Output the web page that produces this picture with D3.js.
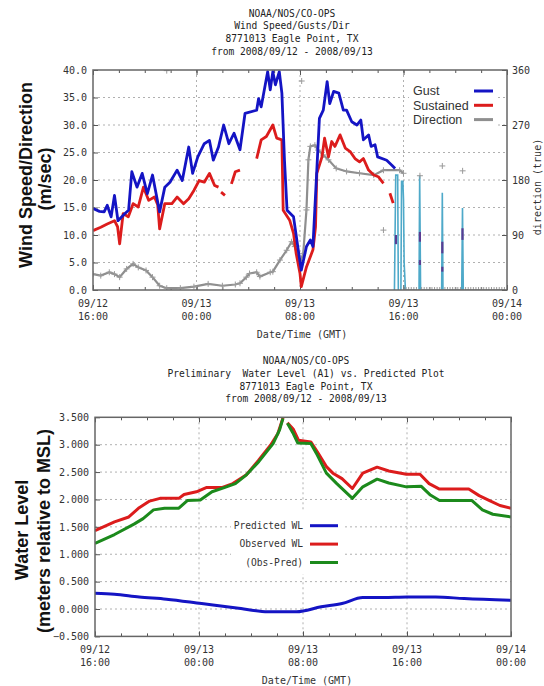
<!DOCTYPE html>
<html><head><meta charset="utf-8">
<script src="https://cdn.jsdelivr.net/npm/d3@7"></script>
<style>body{margin:0;background:#fff} svg{display:block}</style>
</head><body>
<svg id="c" width="544" height="686"></svg>
<script>
// ---------- DATA (hours since 2008-09-12 16:00 GMT) ----------
const startT = Date.UTC(2008, 8, 12, 16);
const windTitle = ["NOAA/NOS/CO-OPS", "Wind Speed/Gusts/Dir", "8771013 Eagle Point, TX", "from 2008/09/12 - 2008/09/13"];
const wlTitle = ["NOAA/NOS/CO-OPS", "Preliminary  Water Level (A1) vs. Predicted Plot", "8771013 Eagle Point, TX", "from 2008/09/12 - 2008/09/13"];
const windLegend = ["Gust", "Sustained", "Direction"];
const wlLegend = ["Predicted WL", "Observed WL", "(Obs-Pred)"];
const speedTicks = [0, 5, 10, 15, 20, 25, 30, 35, 40];
const dirTicks = [0, 90, 180, 270, 360];
const levelTicks = [-0.5, 0, 0.5, 1, 1.5, 2, 2.5, 3, 3.5];

const gust = [[0,14.8],[0.5,14.3],[0.86,14.2],[1.1,15.4],[1.4,13.3],[1.66,17.2],[1.93,12.6],[2.47,13.9],[2.75,14.5],[3.0,21.5],[3.4,18.7],[3.8,21.2],[4.2,17.5],[4.6,20.9],[5.15,14.2],[5.55,18.7],[5.95,19.6],[6.5,21.8],[6.9,19.9],[7.4,26],[7.7,21.2],[8.1,24.2],[8.6,26.6],[9.0,27.2],[9.3,23.6],[9.7,26],[10.1,30],[10.5,26.6],[10.9,28.5],[11.36,25.5],[11.75,32.1],[12.65,32.7],[12.8,34.8],[13.0,33.3],[13.5,39.7],[13.7,36.4],[13.9,39.7],[14.1,37.3],[14.4,39.7],[14.6,35.8],[14.8,23.6],[15.0,14.5],[15.5,13.3],[15.9,6.7],[16.1,3.6],[16.5,7.9],[16.8,9.1],[17.0,7.9],[17.3,21.8],[17.5,31.2],[17.8,32.7],[18.1,37.9],[18.3,33.9],[18.6,36.1],[19.0,35.8],[19.35,32.7],[19.6,32.7],[20.0,30.6],[20.4,30],[20.7,30.9],[20.9,27.3],[21.3,28.2],[21.5,26.1],[21.8,26.4],[22.0,24.2],[22.7,23.6],[23.1,22.7],[23.35,22.1]];
const sustained = [[0,10.8],[0.6,11.4],[1.1,12],[1.66,12.6],[1.9,11.5],[2.06,8.4],[2.33,13.9],[2.73,13.3],[3.1,15.7],[3.5,15.1],[3.9,18.7],[4.3,16.3],[4.75,16.9],[5.0,15.5],[5.15,11.1],[5.55,15.7],[6.1,15.7],[6.5,16.9],[7.0,15.7],[7.4,16.6],[7.8,18.1],[8.2,19.9],[8.6,19.6],[9.0,21.2],[9.4,19],[9.7,18.7],null,[9.9,17.8],[10.2,17.2],null,[10.7,19.3],[11.0,21.5],[11.36,21.8],null,[12.65,23.9],[13.0,27.3],[13.4,27.9],[13.9,30],[14.2,27.6],[14.6,27.3],[14.7,14.5],[15.2,12.7],[15.5,10.3],[15.7,6.7],[16.0,3.0],[16.1,0.6],[16.5,4.2],[17.0,7.3],[17.2,11.5],[17.3,21.2],[17.7,24.2],[17.9,27.6],[18.2,24.2],[18.45,27],[18.7,26.1],[19.1,28.2],[19.5,25.8],[19.9,25.1],[20.25,23.9],[20.6,23.3],[20.9,23.9],[21.3,21.8],[21.7,20.9],[22.05,20.6],[22.45,19.4],null,[22.95,17.6],[23.2,15.8]];
const direction = [[0,26],[0.6,23.5],[1.26,29],[1.66,26],[2.06,21],[2.6,34.5],[3.1,42.7],[3.5,37],[4.1,32],[4.6,21],[5.15,7],[5.7,3],[6.75,3],[7.8,5.5],[8.9,10],[10,7],[11.0,9],[11.36,11],[11.85,21],[12.1,27],[12.65,29],[12.9,22],[13.7,29],[13.9,30],[14.45,49],[14.97,65],[15.35,79],[15.6,71],[16.0,44],[16.25,60],[16.5,131],[16.65,213],[16.8,235],[17.15,237],[17.4,229],[17.8,221],[18.2,213],[18.8,199],[19.6,194],[20.6,191],[21.7,188],[22.45,196],[23.7,196],[24.0,191]];
const dirOutliers = [[5.7,359],[16.13,342],[22.45,98],[25.27,187],[27.0,203],[28.57,195]];
const dirZeroHours = [24.2,24.4,24.6,24.8,25.0,25.4,25.6,25.8,26.0,26.2,26.4,26.6,26.8,27.2,27.4,27.6,27.8,28.0,28.2,28.4,28.8,29.0,29.2,29.4,29.6,29.8,30.0,30.2,30.4,30.6,30.8,31.0,31.2,31.4,31.6,31.8];
const spikes = [[23.3,0],[23.4,188],[23.55,188],[23.6,0],null,[23.8,0],[23.85,178],[23.95,178],[24.0,148],[24.05,45],[24.15,0],null,[25.2,0],[25.25,188],[25.32,0],null,[26.95,0],[27.0,159],[27.05,0],null,[28.5,0],[28.56,134],[28.62,0]];
const spikeMarks = [[23.42,75,90],[25.27,79,95],[25.27,41,49],[27.0,60,79],[27.0,30,38],[28.56,82,101]];

const predicted = [[0,0.29],[1.5,0.27],[3.4,0.22],[5.5,0.18],[8.2,0.10],[10.9,0.02],[13.3,-0.05],[15.5,-0.05],[17.4,0.04],[19,0.10],[20.6,0.21],[22.2,0.21],[24,0.22],[26.2,0.22],[28.4,0.19],[32,0.16]];
const observed = [[0,1.43],[1.5,1.59],[2.6,1.68],[3.4,1.85],[4.2,1.97],[5.0,2.02],[6.45,2.02],[6.85,2.09],[7.8,2.14],[8.6,2.22],[9.8,2.22],[10.6,2.29],[11.65,2.45],[12.6,2.72],[13.5,2.99],[14.06,3.2],[14.46,3.49],null,[14.8,3.40],[15.26,3.28],[15.66,3.08],[16.6,3.05],[17.1,2.87],[17.8,2.60],[18.3,2.48],[19,2.38],[19.8,2.20],[20.6,2.48],[21.7,2.59],[22.6,2.52],[23.95,2.46],[25,2.46],[25.7,2.29],[26.5,2.19],[28.75,2.19],[29.55,2.07],[30.35,1.98],[31.15,1.89],[32,1.84]];
const obsMinusPred = [[0,1.20],[1.5,1.36],[3.0,1.55],[3.7,1.65],[4.5,1.81],[5.35,1.84],[6.45,1.84],[7.1,1.98],[8.1,1.99],[9.0,2.14],[10,2.22],[10.8,2.29],[11.65,2.45],[12.6,2.69],[13.7,3.02],[14.2,3.27],[14.46,3.48],null,[14.8,3.39],[15.26,3.2],[15.6,3.03],[16.6,3.02],[17.1,2.81],[17.8,2.48],[18.6,2.29],[19.8,2.02],[20.6,2.23],[21.7,2.37],[22.6,2.30],[23.95,2.23],[25.1,2.24],[25.8,2.08],[26.5,1.98],[29,1.98],[29.8,1.81],[30.6,1.73],[32,1.68]];

// ---------- DRAWING ----------
const toDate = h => new Date(startT + h * 3600e3);
const svg = d3.select("#c");
const MONO = "'DejaVu Sans Mono', monospace";
const SANS = "'Liberation Sans', Arial, sans-serif";
const C = {blue:"#1414c4", red:"#dc1c1c", green:"#1c8a1c", gray:"#8f8f8f", spike:"#4ea9c9", purple:"#5a3c92"};

function panel(o) {
  const x = d3.scaleUtc().domain([toDate(0), toDate(32)]).range([o.x0, o.x1]);
  const y = d3.scaleLinear().domain(o.yDom).range([o.y1, o.y0]);
  svg.append("clipPath").attr("id", o.id).append("rect")
    .attr("x", o.x0).attr("y", o.y0).attr("width", o.x1 - o.x0).attr("height", o.y1 - o.y0);
  const g = svg.append("g");
  // title
  g.append("g").selectAll("text").data(o.title).join("text")
    .attr("x", o.titleX).attr("y", (d, i) => o.titleY + i * 12.6).attr("dy", "0.35em")
    .attr("text-anchor", "middle").attr("font-family", MONO).attr("font-size", 9.6).attr("fill", "#222")
    .style("white-space", "pre").text(d => d);
  // grid
  const major = x.ticks(d3.utcHour.every(8));
  const grid = g.append("g").attr("stroke", "#b0b0b0").attr("stroke-width", 1).attr("stroke-dasharray", "2,3");
  o.yTicks.filter(v => v > o.yDom[0] && v < o.yDom[1]).forEach(v =>
    grid.append("line").attr("x1", o.x0).attr("x2", o.x1).attr("y1", y(v)).attr("y2", y(v)));
  major.slice(1, -1).forEach(t =>
    grid.append("line").attr("x1", x(t)).attr("x2", x(t)).attr("y1", o.y0).attr("y2", o.y1));
  // axes
  const axG = g.append("g").attr("font-family", MONO);
  const styleAx = s => { s.select(".domain").remove(); s.selectAll("line").attr("stroke", "#555"); };
  axG.append("g").attr("transform", `translate(0,${o.y1})`)
    .call(d3.axisBottom(x).ticks(d3.utcHour.every(2)).tickSize(-3).tickFormat("")).call(styleAx);
  axG.append("g").attr("transform", `translate(0,${o.y0})`)
    .call(d3.axisTop(x).ticks(d3.utcHour.every(2)).tickSize(-3).tickFormat("")).call(styleAx);
  axG.append("g").attr("transform", `translate(0,${o.y1})`)
    .call(d3.axisBottom(x).ticks(d3.utcHour.every(8)).tickSize(-5).tickFormat("")).call(styleAx);
  axG.append("g").attr("transform", `translate(0,${o.y0})`)
    .call(d3.axisTop(x).ticks(d3.utcHour.every(8)).tickSize(-5).tickFormat("")).call(styleAx);
  axG.append("g").attr("transform", `translate(${o.x0},0)`)
    .call(d3.axisLeft(y).tickValues(o.yTicks).tickSize(-5).tickPadding(6).tickFormat(d3.format(o.yFmt)))
    .call(styleAx).selectAll("text").attr("font-size", 10).attr("fill", "#333").attr("font-family", MONO);
  // x labels (two lines)
  const fmt1 = d3.utcFormat("%m/%d"), fmt2 = d3.utcFormat("%H:%M");
  const lab = axG.append("g").selectAll("g").data(major).join("g")
    .attr("transform", t => `translate(${x(t)},${o.y1})`);
  lab.append("text").attr("y", 13).attr("dy", "0.35em").attr("text-anchor", "middle")
    .attr("font-size", 10).attr("fill", "#333").text(fmt1);
  lab.append("text").attr("y", 26).attr("dy", "0.35em").attr("text-anchor", "middle")
    .attr("font-size", 10).attr("fill", "#333").text(fmt2);
  axG.append("text").attr("x", o.xLabX).attr("y", o.y1 + 44).attr("dy", "0.35em").attr("text-anchor", "middle")
    .attr("font-size", 10).attr("fill", "#333").text("Date/Time (GMT)");
  // y label
  o.yLabel.forEach((l, i) => {
    g.append("text").attr("transform", `translate(${l.x},${l.y}) rotate(-90)`)
      .attr("text-anchor", "middle").attr("dy", "0.35em")
      .attr("font-family", SANS).attr("font-weight", "bold").attr("font-size", 18).attr("fill", "#111").text(l.t);
  });
  const plot = svg.append("g").attr("clip-path", `url(#${o.id})`);
  const border = () => svg.append("rect").attr("x", o.x0).attr("y", o.y0).attr("width", o.x1 - o.x0)
    .attr("height", o.y1 - o.y0).attr("fill", "none").attr("stroke", "#666").attr("stroke-width", 1.5);
  return {x, y, g, plot, border};
}

function lineGen(x, y) {
  return d3.line().defined(d => d !== null).x(d => x(toDate(d[0]))).y(d => y(d[1]));
}

// ---- Top panel: wind ----
const P1 = panel({id: "clipA", x0: 93, x1: 507, y0: 70, y1: 290, yDom: [0, 40], yTicks: speedTicks, yFmt: ".1f",
  title: windTitle, titleX: 292, titleY: 13.5, xLabX: 302,
  yLabel: [{t: "Wind Speed/Direction", x: 26, y: 175}, {t: "(m/sec)", x: 45, y: 179}]});
const yDir = d3.scaleLinear().domain([0, 360]).range([290, 70]);
svg.append("g").attr("transform", "translate(507,0)")
  .call(d3.axisRight(yDir).tickValues(dirTicks).tickSize(-5).tickPadding(5))
  .call(s => { s.select(".domain").remove(); s.selectAll("line").attr("stroke", "#555"); })
  .selectAll("text").attr("font-family", MONO).attr("font-size", 10).attr("fill", "#333");
svg.append("text").attr("transform", "translate(537,187) rotate(-90)").attr("text-anchor", "middle").attr("dy", "0.35em")
  .attr("font-family", MONO).attr("font-size", 10).attr("fill", "#333").text("direction (true)");

const lineS = lineGen(P1.x, P1.y), lineD = lineGen(P1.x, yDir);
P1.plot.append("path").datum(spikes).attr("d", lineD).attr("fill", "none").attr("stroke", C.spike).attr("stroke-width", 1.6);
P1.plot.append("g").selectAll("line").data(spikeMarks).join("line")
  .attr("x1", d => P1.x(toDate(d[0]))).attr("x2", d => P1.x(toDate(d[0])))
  .attr("y1", d => yDir(d[1])).attr("y2", d => yDir(d[2])).attr("stroke", C.purple).attr("stroke-width", 2.2);
P1.plot.append("path").datum(direction).attr("d", lineD).attr("fill", "none").attr("stroke", C.gray).attr("stroke-width", 2.2);
const cross = "M-3,0H3M0,-3V3";
const dirPts = direction.concat(dirOutliers, dirZeroHours.map(h => [h, 0]));
P1.plot.append("g").selectAll("path").data(dirPts).join("path")
  .attr("transform", d => `translate(${P1.x(toDate(d[0]))},${yDir(d[1])})`)
  .attr("d", cross).attr("stroke", "#9a9a9a").attr("stroke-width", 1);
P1.plot.append("path").datum(sustained).attr("d", lineS).attr("fill", "none").attr("stroke", C.red).attr("stroke-width", 2.8).attr("stroke-linejoin", "round");
P1.plot.append("path").datum(gust).attr("d", lineS).attr("fill", "none").attr("stroke", C.blue).attr("stroke-width", 2.8).attr("stroke-linejoin", "round");
P1.border();
// legend
const lg1 = svg.append("g");
lg1.append("rect").attr("x", 409).attr("y", 82).attr("width", 88).attr("height", 45).attr("fill", "#fff");
[C.blue, C.red, C.gray].forEach((c, i) => {
  const yy = 91 + i * 14.3;
  lg1.append("text").attr("x", 413).attr("y", yy).attr("dy", "0.35em").attr("font-family", SANS).attr("font-size", 12.5)
    .attr("fill", "#333").text(windLegend[i]);
  lg1.append("line").attr("x1", 474).attr("x2", 493).attr("y1", yy).attr("y2", yy).attr("stroke", c).attr("stroke-width", 3);
});

// ---- Bottom panel: water level ----
const P2 = panel({id: "clipB", x0: 95, x1: 511, y0: 417.3, y1: 636.4, yDom: [-0.5, 3.5], yTicks: levelTicks, yFmt: ".3f",
  title: wlTitle, titleX: 306, titleY: 361, xLabX: 307,
  yLabel: [{t: "Water Level", x: 22, y: 530}, {t: "(meters relative to MSL)", x: 44, y: 531}]});
const lineW = lineGen(P2.x, P2.y);
P2.plot.append("path").datum(predicted).attr("d", lineW.curve(d3.curveMonotoneX)).attr("fill", "none").attr("stroke", C.blue).attr("stroke-width", 3);
const lineW2 = lineGen(P2.x, P2.y);
P2.plot.append("path").datum(observed).attr("d", lineW2).attr("fill", "none").attr("stroke", C.red).attr("stroke-width", 3).attr("stroke-linejoin", "round");
P2.plot.append("path").datum(obsMinusPred).attr("d", lineW2).attr("fill", "none").attr("stroke", C.green).attr("stroke-width", 3).attr("stroke-linejoin", "round");
P2.border();
const lg2 = svg.append("g");
lg2.append("rect").attr("x", 231).attr("y", 512).attr("width", 111).attr("height", 62).attr("fill", "#fff");
[C.blue, C.red, C.green].forEach((c, i) => {
  const yy = 525.7 + i * 18.4;
  lg2.append("text").attr("x", 303).attr("y", yy).attr("dy", "0.35em").attr("text-anchor", "end")
    .attr("font-family", MONO).attr("font-size", 9.6).attr("fill", "#333").text(wlLegend[i]);
  lg2.append("line").attr("x1", 310).attr("x2", 338).attr("y1", yy).attr("y2", yy).attr("stroke", c).attr("stroke-width", 3);
});
</script>
</body></html>
